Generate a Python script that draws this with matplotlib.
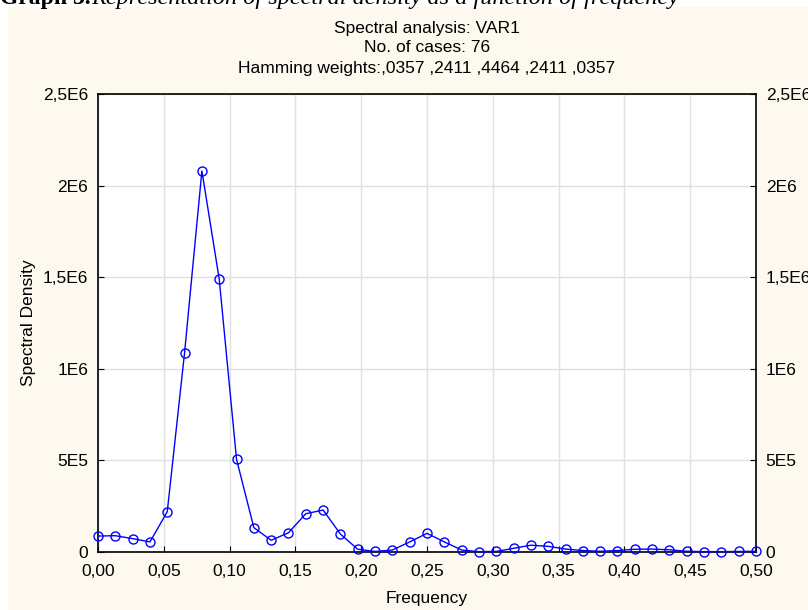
import numpy as np
from matplotlib import pyplot as plt

# frequencies k/76, k = 0..38
n_cases = 76
freq = [k / n_cases for k in range(39)]
density = [
    87000, 89000, 73000, 55000, 220000, 1088000, 2080000, 1490000, 506000, 133000,
    64000, 105000, 209000, 229000, 98000, 15000, 3000, 11000, 55000, 102000,
    55000, 11000, 2000, 3000, 20000, 37000, 31000, 16000, 8000, 4000,
    8000, 15000, 16000, 12000, 4000, 2000, 2000, 3000, 4000,
]

x_ticks = [0.0, 0.05, 0.10, 0.15, 0.20, 0.25, 0.30, 0.35, 0.40, 0.45, 0.50]
x_tick_labels = ["0,00", "0,05", "0,10", "0,15", "0,20", "0,25", "0,30", "0,35", "0,40", "0,45", "0,50"]
y_ticks = [0, 500000, 1000000, 1500000, 2000000, 2500000]
y_tick_labels = ["0", "5E5", "1E6", "1,5E6", "2E6", "2,5E6"]

title_lines = [
    "Spectral analysis: VAR1",
    "No. of cases: 76",
    "Hamming weights:,0357 ,2411 ,4464 ,2411 ,0357",
]

W, H = 808, 610
FS = 12.5
plt.rcParams["font.family"] = ["Liberation Sans", "DejaVu Sans"]

fig = plt.figure(figsize=(W / 100, H / 100), dpi=100, facecolor="white")

# cream panel behind the chart
panel = plt.Rectangle((8 / W, 0), 1 - 8 / W, 1 - 7 / H, transform=fig.transFigure,
                      facecolor="#fdf9ef", edgecolor="none", zorder=-10)
fig.patches.append(panel)

# caption above the panel (cut off at the top edge)
fig.text(0.0, 1 - 4 / H, "Graph 3.", fontsize=17, fontweight="bold",
         family="Liberation Serif", ha="left", va="baseline")
fig.text(91 / W, 1 - 4 / H, "Representation of spectral density as a function of frequency",
         fontsize=17.5, style="italic", family="Liberation Serif", ha="left", va="baseline")

ax = fig.add_axes([98 / W, 1 - 552 / H, (756 - 98) / W, (552 - 94) / H])
ax.set_facecolor("white")

ax.plot(freq, density, color="#0000ff", linewidth=1, marker="o", markersize=6.5,
        markerfacecolor="none", markeredgecolor="#0000ff", markeredgewidth=1, clip_on=False, zorder=3)

ax.set_xlim(0, 0.5)
ax.set_ylim(0, 2500000)
ax.set_xticks(x_ticks)
ax.set_xticklabels(x_tick_labels)
ax.set_yticks(y_ticks)
ax.set_yticklabels(y_tick_labels)

ax.grid(True, color="#e0e0e0", linewidth=1)
ax.set_axisbelow(True)
ax.tick_params(axis="both", direction="in", length=4, labelsize=FS, colors="black")
ax.tick_params(axis="y", right=True, labelright=True, pad=7)
ax.tick_params(axis="x", pad=9)
for side in ["left", "bottom", "right", "top"]:
    ax.spines[side].set_color("black")
    ax.spines[side].set_linewidth(1.2)

ax.set_xlabel("Frequency", fontsize=FS, labelpad=8)
ax.set_ylabel("Spectral Density", fontsize=FS, labelpad=5)

ax_center = (98 + 756) / 2 / W
for i, line in enumerate(title_lines):
    fig.text(ax_center, 1 - (28 + 20 * i) / H, line, fontsize=FS, ha="center", va="center")

fig.savefig("out.png", dpi=100)
